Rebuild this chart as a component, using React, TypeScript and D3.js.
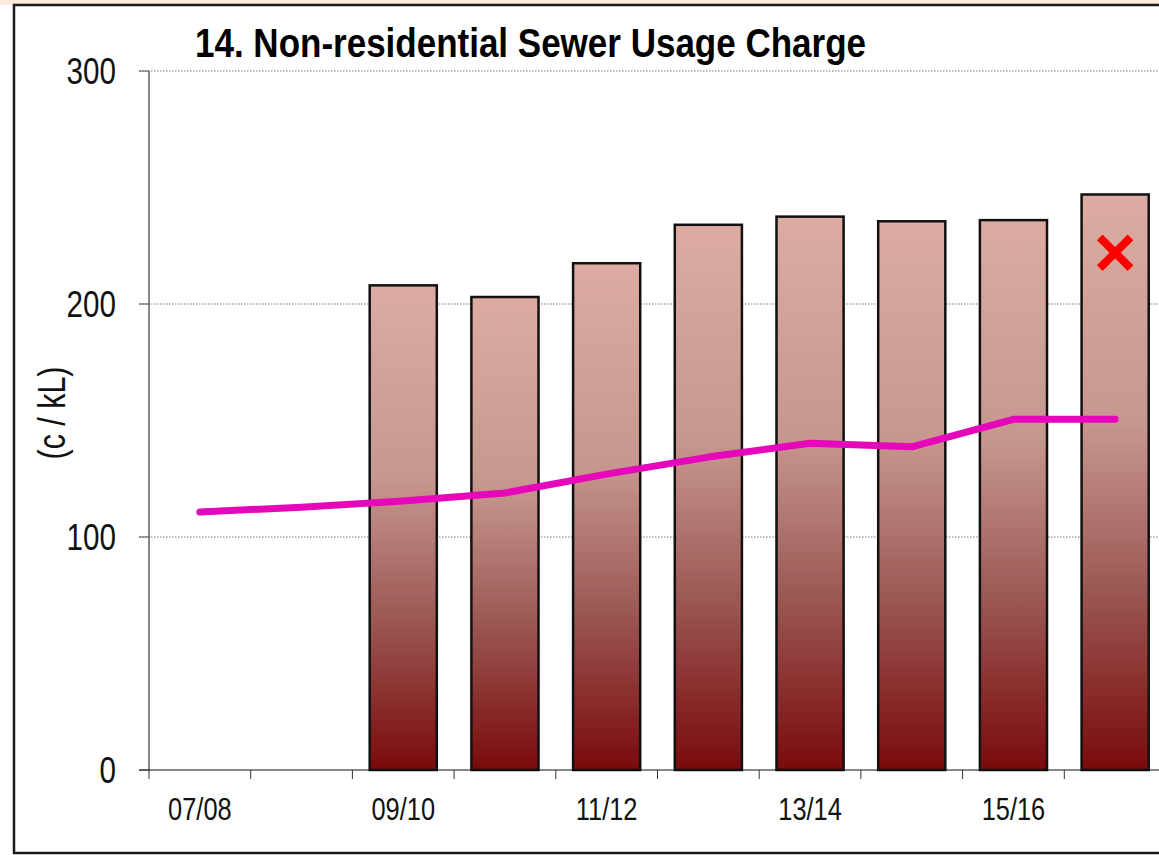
import React, { useEffect } from 'react';
import * as d3 from 'd3';

// values
const categories = ['07/08', '08/09', '09/10', '10/11', '11/12', '12/13', '13/14', '14/15', '15/16', '16/17'];
const barValues: (number | null)[] = [null, null, 208, 203, 217.5, 234, 237.5, 235.5, 236, 247];
const lineValues = [110.7, 112.8, 115.5, 118.9, 127, 134.3, 140.2, 138.7, 150.5, 150.5];
const crossPoint = { category: '16/17', value: 222 };
const yTicks = [0, 100, 200, 300];
const xLabelled = ['07/08', '09/10', '11/12', '13/14', '15/16'];

const W = 1159;
const H = 855;
// no narrow font installed, so squeeze Liberation Sans horizontally
const FONT = "'Liberation Sans', Arial, sans-serif";
const NARROW = 0.8;

const App = () => {
  useEffect(() => {
    document.body.style.margin = '0';
  }, []);

  const x = d3.scaleBand<string>().domain(categories).range([149, 1166]);
  const y = d3.scaleLinear().domain([0, 300]).range([770, 71]);
  const step = x.step();
  const barW = step * 0.66;
  const cx = (c: string) => (x(c) as number) + step / 2;

  const line = d3.line<number>()
    .x((_, i) => cx(categories[i]))
    .y((d) => y(d));

  const cross = d3.symbol(d3.symbolTimes, 620)();

  return (
    <svg width={W} height={H} style={{ display: 'block' }}>
      <defs>
        <linearGradient id="barGrad" x1="0" y1="0" x2="0" y2="1">
          <stop offset="0" stopColor="#dcaca2" />
          <stop offset="0.4" stopColor="#c6978e" />
          <stop offset="0.7" stopColor="#9a5551" />
          <stop offset="1" stopColor="#7a0a0c" />
        </linearGradient>
      </defs>
      <rect x={0} y={0} width={W} height={5} fill="#fde9dd" />
      <rect x={0} y={5} width={W} height={H - 5} fill="#fff" />
      <rect x={14} y={5} width={1200} height={848} fill="none" stroke="#1a1a1a" strokeWidth={2.5} />

      {/* gridlines */}
      {yTicks.filter((t) => t > 0).map((t) => (
        <line key={t} x1={139} x2={W} y1={y(t)} y2={y(t)} stroke="#777" strokeDasharray="1.5 1.5" />
      ))}

      {/* bars */}
      {categories.map((c, i) => barValues[i] == null ? null : (
        <rect key={c}
          x={cx(c) - barW / 2}
          y={y(barValues[i] as number)}
          width={barW}
          height={y(0) - y(barValues[i] as number)}
          fill="url(#barGrad)"
          stroke="#111"
          strokeWidth={2.5} />
      ))}

      {/* axes */}
      <line x1={149} x2={149} y1={y(300)} y2={y(0)} stroke="#111" />
      {yTicks.map((t) => (
        <g key={t}>
          <line x1={139} x2={149} y1={y(t)} y2={y(t)} stroke="#555" />
          <text transform={`translate(116,${y(t) + 13}) scale(${NARROW},1)`} textAnchor="end" fontFamily={FONT} fontSize={37} fill="#111">{t}</text>
        </g>
      ))}
      <line x1={139} x2={W} y1={y(0)} y2={y(0)} stroke="#111" />
      {categories.map((c) => (
        <line key={c} x1={x(c) as number} x2={x(c) as number} y1={y(0)} y2={y(0) + 9} stroke="#333" />
      ))}
      {xLabelled.map((c) => (
        <text key={c} transform={`translate(${cx(c)},820) scale(0.82,1)`} textAnchor="middle" fontFamily={FONT} fontSize={31} fill="#111">{c}</text>
      ))}

      <text transform="translate(65,413) rotate(-90) scale(0.8,1)" textAnchor="middle" fontFamily={FONT} fontSize={38} fill="#111">(c / kL)</text>

      {/* line series */}
      <path d={line(lineValues) as string} fill="none" stroke="#e507b9" strokeWidth={7} strokeLinecap="round" strokeLinejoin="round" />

      {/* red cross */}
      <path d={cross as string} transform={`translate(${cx(crossPoint.category)},${y(crossPoint.value)})`} fill="none" stroke="#ff0000" strokeWidth={8} />

      <text transform="translate(195,57) scale(0.875,1)" fontFamily={FONT} fontWeight="bold" fontSize={40} fill="#000">14. Non-residential Sewer Usage Charge</text>
    </svg>
  );
};

export default App;
